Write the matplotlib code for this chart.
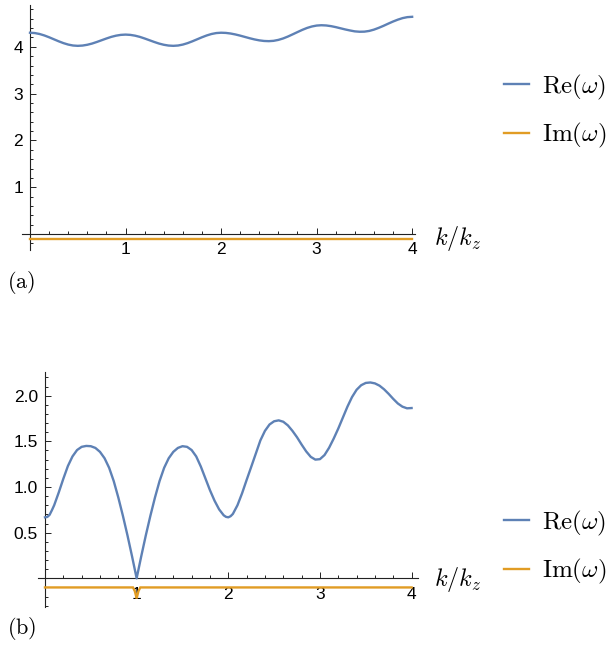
import numpy as np
import matplotlib
matplotlib.use("Agg")
import matplotlib.pyplot as plt
from matplotlib.ticker import MultipleLocator

plt.rcParams['mathtext.fontset'] = 'cm'
plt.rcParams['font.family'] = ['Liberation Sans', 'DejaVu Sans']

BLUE = '#5E81B5'
ORANGE = '#E19C24'

# ---- panel (a) data ----
k_a = [0.00, 0.05, 0.10, 0.15, 0.20, 0.25, 0.30, 0.35, 0.40, 0.45,
       0.50, 0.55, 0.60, 0.65, 0.70, 0.75, 0.80, 0.85, 0.90, 0.95,
       1.00, 1.05, 1.10, 1.15, 1.20, 1.25, 1.30, 1.35, 1.40, 1.45,
       1.50, 1.55, 1.60, 1.65, 1.70, 1.75, 1.80, 1.85, 1.90, 1.95,
       2.00, 2.05, 2.10, 2.15, 2.20, 2.25, 2.30, 2.35, 2.40, 2.45,
       2.50, 2.55, 2.60, 2.65, 2.70, 2.75, 2.80, 2.85, 2.90, 2.95,
       3.00, 3.05, 3.10, 3.15, 3.20, 3.25, 3.30, 3.35, 3.40, 3.45,
       3.50, 3.55, 3.60, 3.65, 3.70, 3.75, 3.80, 3.85, 3.90, 3.95, 4.00]
re_a = [4.300, 4.293, 4.273, 4.242, 4.203, 4.160, 4.117, 4.078, 4.047, 4.027,
        4.020, 4.026, 4.043, 4.069, 4.103, 4.140, 4.177, 4.211, 4.237, 4.254,
        4.260, 4.254, 4.237, 4.211, 4.177, 4.140, 4.103, 4.069, 4.043, 4.026,
        4.020, 4.027, 4.047, 4.078, 4.117, 4.160, 4.203, 4.242, 4.273, 4.293,
        4.300, 4.296, 4.283, 4.263, 4.238, 4.210, 4.182, 4.157, 4.137, 4.124,
        4.120, 4.127, 4.147, 4.178, 4.219, 4.266, 4.314, 4.361, 4.402, 4.433,
        4.453, 4.460, 4.455, 4.441, 4.420, 4.395, 4.370, 4.348, 4.329, 4.321,
        4.323, 4.338, 4.366, 4.404, 4.447, 4.494, 4.539, 4.579, 4.612, 4.633, 4.640]
k_im_a = [0.0, 4.0]
im_a = [-0.10, -0.10]

# ---- panel (b) data ----
k_b = [0.00, 0.025, 0.05, 0.075, 0.10, 0.15, 0.20, 0.25, 0.30, 0.35, 0.40, 0.45,
       0.50, 0.55, 0.60, 0.65, 0.70, 0.75, 0.80, 0.85, 0.90, 0.95, 0.975,
       1.00, 1.025, 1.05, 1.10, 1.15, 1.20, 1.25, 1.30, 1.35, 1.40, 1.45,
       1.50, 1.55, 1.60, 1.65, 1.70, 1.75, 1.80, 1.85, 1.90, 1.95, 1.975,
       2.00, 2.025, 2.05, 2.10, 2.15, 2.20, 2.25, 2.30, 2.35, 2.40, 2.45,
       2.50, 2.55, 2.60, 2.65, 2.70, 2.75, 2.80, 2.85, 2.90, 2.95,
       3.00, 3.05, 3.10, 3.15, 3.20, 3.25, 3.30, 3.35, 3.40, 3.45,
       3.50, 3.55, 3.60, 3.65, 3.70, 3.75, 3.80, 3.85, 3.90, 3.95, 4.00]
re_b = [0.668, 0.672, 0.695, 0.745, 0.800, 0.940, 1.090, 1.230, 1.335, 1.405, 1.440, 1.450,
        1.447, 1.428, 1.385, 1.315, 1.210, 1.065, 0.885, 0.685, 0.470, 0.240, 0.120,
        0.000, 0.120, 0.240, 0.470, 0.685, 0.885, 1.065, 1.210, 1.315, 1.385, 1.428,
        1.447, 1.440, 1.405, 1.335, 1.225, 1.095, 0.965, 0.850, 0.755, 0.690, 0.673,
        0.668, 0.680, 0.705, 0.800, 0.930, 1.077, 1.220, 1.365, 1.510, 1.615, 1.685,
        1.720, 1.730, 1.715, 1.675, 1.615, 1.545, 1.465, 1.390, 1.330, 1.300,
        1.305, 1.350, 1.430, 1.530, 1.640, 1.760, 1.880, 1.985, 2.065, 2.115,
        2.140, 2.145, 2.135, 2.110, 2.070, 2.020, 1.965, 1.915, 1.880, 1.862, 1.865]
k_im_b = [0.00, 0.96, 0.98, 0.99, 1.00, 1.01, 1.02, 1.04, 4.00]
im_b = [-0.10, -0.10, -0.14, -0.18, -0.22, -0.18, -0.14, -0.10, -0.10]

labels = [r'$\mathrm{Re}(\omega)$', r'$\mathrm{Im}(\omega)$']
xlabel = r'$k/k_z$'

W, H = 608, 645
fig = plt.figure(figsize=(W / 100, H / 100), dpi=100)


def px_axes(l, r, t, b):
    return fig.add_axes([l / W, 1 - b / H, (r - l) / W, (b - t) / H])


def style(ax, xlim, ylim, ymaj, ymin_step, yfmt):
    ax.set_xlim(*xlim)
    ax.set_ylim(*ylim)
    for s in ['top', 'right']:
        ax.spines[s].set_visible(False)
    ax.spines['left'].set_position(('data', 0))
    ax.spines['bottom'].set_position(('data', 0))
    for s in ['left', 'bottom']:
        ax.spines[s].set_linewidth(0.8)
        ax.spines[s].set_color('#222222')
    ax.set_xticks([1, 2, 3, 4])
    ax.set_xticklabels(['1', '2', '3', '4'])
    ax.xaxis.set_minor_locator(MultipleLocator(0.2))
    ax.set_yticks(ymaj)
    ax.set_yticklabels([yfmt.format(v) for v in ymaj])
    ax.yaxis.set_minor_locator(MultipleLocator(ymin_step))
    ax.tick_params(which='both', direction='in', width=0.7, colors='#222222',
                   labelsize=12.5, labelcolor='black')
    ax.tick_params(which='major', length=4)
    ax.tick_params(which='minor', length=2.3)
    ax.tick_params(axis='x', pad=6)
    ax.tick_params(axis='y', pad=5)
    ax.patch.set_visible(False)


# panel (a)
ax1 = px_axes(21.7, 415, 5.1, 250)
ax1.plot(k_im_a, im_a, color=ORANGE, lw=1.7, label=labels[1], zorder=3)
ax1.plot(k_a, re_a, color=BLUE, lw=1.7, label=labels[0], zorder=4)
style(ax1, (-0.087, 4.03), (-0.34, 4.89), [1, 2, 3, 4], 0.2, '{:g}')

# panel (b)
ax2 = px_axes(38.3, 418, 371.7, 606.7)
ax2.plot(k_im_b, im_b, color=ORANGE, lw=1.7, label=labels[1], zorder=3,
         solid_joinstyle='miter')
ax2.plot(k_b, re_b, color=BLUE, lw=1.7, label=labels[0], zorder=4)
style(ax2, (-0.073, 4.07), (-0.311, 2.263), [0.5, 1.0, 1.5, 2.0], 0.1, '{:.1f}')

for ax, yc, ly in [(ax1, 111.5, 238), (ax2, 547.5, 579)]:
    h, l = ax.get_legend_handles_labels()
    order = [1, 0]
    fig.legend([h[i] for i in order], [l[i] for i in order],
               loc='center left', bbox_to_anchor=(504 / W, 1 - yc / H),
               frameon=False, fontsize=18, handlelength=1.0,
               handletextpad=0.5, labelspacing=0.78, borderpad=0,
               borderaxespad=0)
    fig.text(434 / W, 1 - ly / H, xlabel, fontsize=17.5, ha='left', va='center')

fig.text(7 / W, 1 - 283 / H, r'$(\mathrm{a})$', fontsize=16, ha='left', va='center')
fig.text(7 / W, 1 - 628 / H, r'$(\mathrm{b})$', fontsize=16, ha='left', va='center')

fig.savefig('out.png', dpi=100)
